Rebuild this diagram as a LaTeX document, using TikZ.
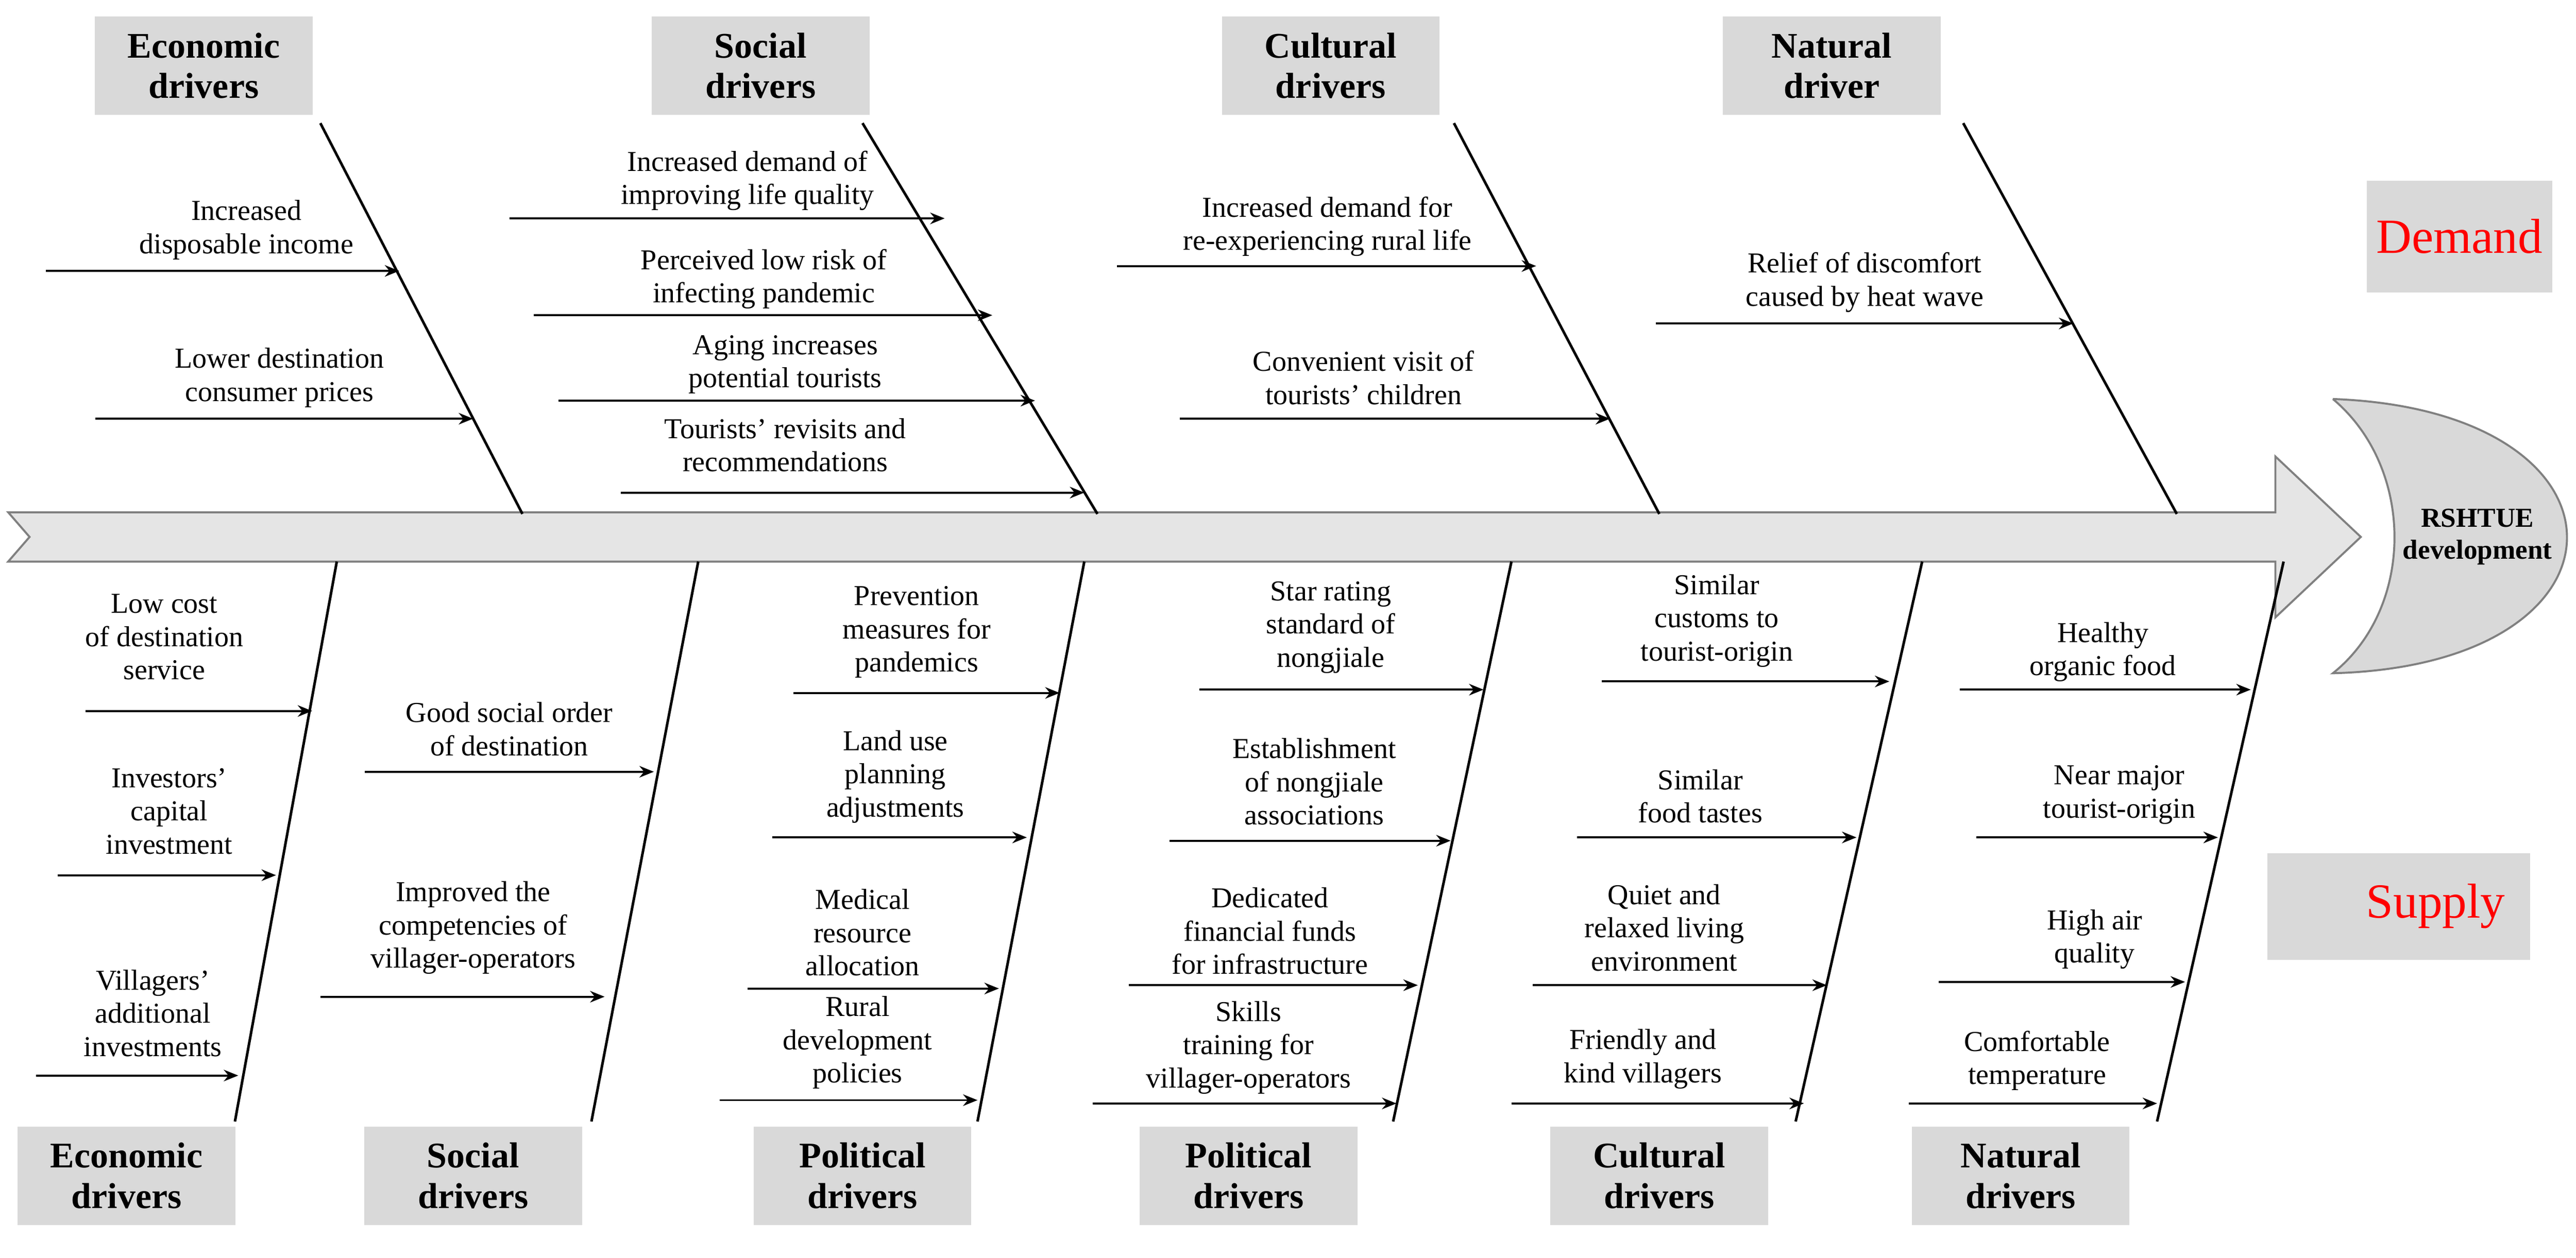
\documentclass[tikz,border=0pt]{standalone}
\usepackage{fontspec}
\usetikzlibrary{arrows.meta}
\setmainfont{Liberation Serif}
\begin{document}
\begin{tikzpicture}[x=0.02cm,y=-0.02cm,
  lbl/.style={align=center,font=\fontsize{10}{11.5}\selectfont,inner sep=0pt},
  cat/.style={fill=black!15,minimum width=2.65cm,minimum height=1.2cm,align=center,font=\fontsize{12.5}{14}\selectfont\bfseries,inner sep=1pt},
  bone/.style={line width=0.9pt},
  arr/.style={line width=0.7pt,-{Stealth[length=5pt,width=4pt]}}]
\useasboundingbox (0,0) rectangle (1568,766);
\newcommand\myarr[4]{\coordinate (#1s) at (#2,#4);\coordinate (#1e) at (#3,#4);\draw[arr] (#1s) -- (#1e);}
% spine
\draw[fill=black!10,draw=black!50,line width=0.7pt] (5,312) -- (1385,312) -- (1385,278) -- (1437,327) -- (1385,376) -- (1385,342) -- (5,342) -- (18,327) -- cycle;
% head
\draw[fill=black!15,draw=black!50,line width=0.7pt] (1420,243) .. controls (1610,250) and (1610,405) .. (1420,410) .. controls (1470,370) and (1470,285) .. (1420,243);
\node[font=\fontsize{9.5}{11}\selectfont\bfseries,align=center] (head) at (1508,327) {RSHTUE\\development};
% top categories
\node[cat] (t1) at (124,40) {Economic\\drivers};
\node[cat] (t2) at (463,40) {Social\\drivers};
\node[cat] (t3) at (810,40) {Cultural\\drivers};
\node[cat] (t4) at (1115,40) {Natural\\driver};
\coordinate (b1) at (318,313); \coordinate (b2) at (668,313);
\coordinate (b3) at (1010,313); \coordinate (b4) at (1325,313);
\draw[bone] (195,75) -- (b1); \draw[bone] (525,75) -- (b2);
\draw[bone] (885,75) -- (b3); \draw[bone] (1195,75) -- (b4);
\node[fill=black!15,minimum width=1.7cm,minimum height=1.36cm,font=\fontsize{17}{19}\selectfont,text=red] (dem) at (1497,144) {Demand};
\node[fill=black!15,minimum width=3.2cm,minimum height=1.3cm,font=\fontsize{17}{19}\selectfont,text=red] (sup) at (1460,552) {\hspace*{0.9cm}Supply};
% top labels
\node[lbl] (l1) at (150,140) {Increased\\disposable income}; \myarr{a1}{28}{243}{165}
\node[lbl] (l2) at (170,230) {Lower destination\\consumer prices}; \myarr{a2}{58}{288}{255}
\node[lbl] (l3) at (455,110) {Increased demand of\\improving life quality}; \myarr{a3}{310}{575}{133}
\node[lbl] (l4) at (465,170) {Perceived low risk of\\infecting pandemic}; \myarr{a4}{325}{604}{192}
\node[lbl] (l5) at (478,222) {Aging increases\\potential tourists}; \myarr{a5}{340}{630}{244}
\node[lbl] (l6) at (478,271) {Tourists' revisits and\\recommendations}; \myarr{a6}{378}{660}{300}
\node[lbl] (l7) at (808,138) {Increased demand for\\re-experiencing rural life}; \myarr{a7}{680}{935}{162}
\node[lbl] (l8) at (830,230) {Convenient visit of\\tourists' children}; \myarr{a8}{718}{980}{255}
\node[lbl] (l9) at (1135,172) {Relief of discomfort\\caused by heat wave}; \myarr{a9}{1008}{1262}{197}
% bottom bones
\draw[bone] (205,342) -- (143,683);
\draw[bone] (425,342) -- (360,683);
\draw[bone] (660,342) -- (595,683);
\draw[bone] (920,342) -- (848,683);
\draw[bone] (1170,342) -- (1093,683);
\draw[bone] (1390,342) -- (1313,683);
% bottom categories
\node[cat] (c1) at (77,716) {Economic\\drivers};
\node[cat] (c2) at (288,716) {Social\\drivers};
\node[cat] (c3) at (525,716) {Political\\drivers};
\node[cat] (c4) at (760,716) {Political\\drivers};
\node[cat] (c5) at (1010,716) {Cultural\\drivers};
\node[cat] (c6) at (1230,716) {Natural\\drivers};
% bottom labels
\node[lbl] (m1) at (100,388) {Low cost\\of destination\\service}; \myarr{d1}{52}{190}{433}
\node[lbl] (m2) at (103,494) {Investors'\\capital\\investment}; \myarr{d2}{35}{168}{533}
\node[lbl] (m3) at (93,617) {Villagers'\\additional\\investments}; \myarr{d3}{22}{145}{655}
\node[lbl] (m4) at (310,444) {Good social order\\of destination}; \myarr{d4}{222}{398}{470}
\node[lbl] (m5) at (288,565) {Improved the\\competencies of\\villager-operators}; \myarr{d5}{195}{368}{607}
\node[lbl] (m6) at (558,385) {Prevention\\measures for\\pandemics}; \myarr{d6}{483}{645}{422}
\node[lbl] (m7) at (545,473) {Land use\\planning\\adjustments}; \myarr{d7}{470}{625}{510}
\node[lbl] (m8) at (525,568) {Medical\\resource\\allocation}; \myarr{d8}{455}{608}{602}
\node[lbl] (m9) at (522,635) {Rural\\development\\policies}; \myarr{d9}{438}{595}{670}
\node[lbl] (m10) at (810,382) {Star rating\\standard of\\nongjiale}; \myarr{d10}{730}{903}{420}
\node[lbl] (m11) at (800,476) {Establishment\\of nongjiale\\associations}; \myarr{d11}{712}{883}{512}
\node[lbl] (m12) at (773,567) {Dedicated\\financial funds\\for infrastructure}; \myarr{d12}{687}{863}{600}
\node[lbl] (m13) at (760,638) {Skills\\training for\\villager-operators}; \myarr{d13}{665}{850}{672}
\node[lbl] (m14) at (1045,378) {Similar\\customs to\\tourist-origin}; \myarr{d14}{975}{1150}{415}
\node[lbl] (m15) at (1035,485) {Similar\\food tastes}; \myarr{d15}{960}{1130}{510}
\node[lbl] (m16) at (1013,565) {Quiet and\\relaxed living\\environment}; \myarr{d16}{933}{1112}{600}
\node[lbl] (m17) at (1000,645) {Friendly and\\kind villagers}; \myarr{d17}{920}{1098}{672}
\node[lbl] (m18) at (1280,397) {Healthy\\organic food}; \myarr{d18}{1193}{1370}{420}
\node[lbl] (m19) at (1290,484) {Near major\\tourist-origin}; \myarr{d19}{1203}{1350}{510}
\node[lbl] (m20) at (1275,572) {High air\\quality}; \myarr{d20}{1180}{1330}{598}
\node[lbl] (m21) at (1240,646) {Comfortable\\temperature}; \myarr{d21}{1162}{1313}{672}
\end{tikzpicture}
\end{document}
